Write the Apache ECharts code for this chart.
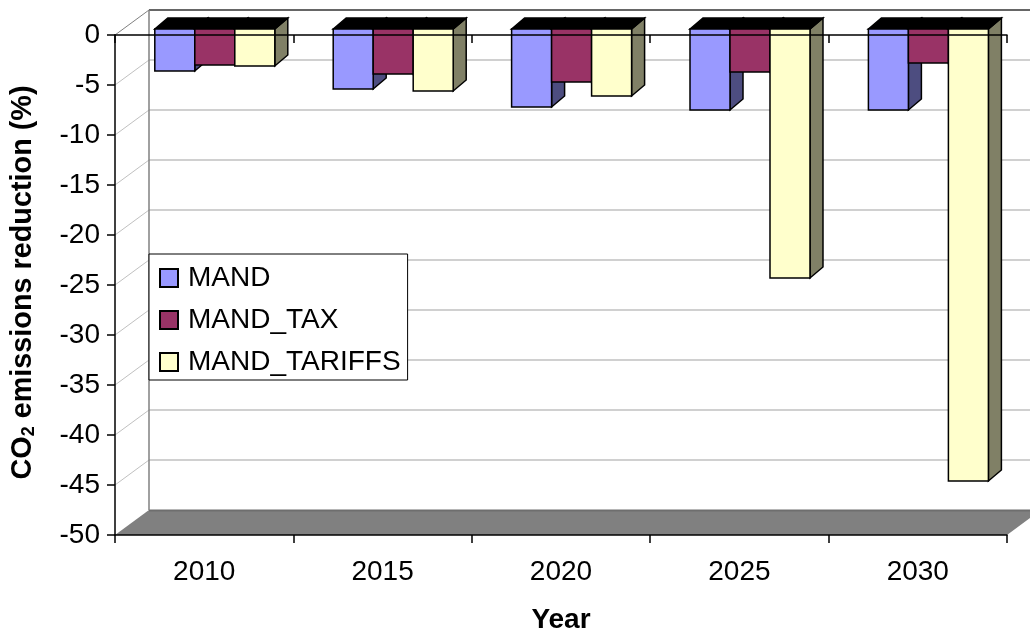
<!DOCTYPE html>
<html>
<head>
<meta charset="utf-8">
<style>html,body{margin:0;padding:0;background:#fff}#c{width:1030px;height:630px}</style>
<script src="https://cdn.jsdelivr.net/npm/echarts@6/dist/echarts.min.js"></script>
</head>
<body>
<div id="c"></div>
<script>
var years = ['2010','2015','2020','2025','2030'];
var seriesNames = ['MAND','MAND_TAX','MAND_TARIFFS'];
var mand = [-4.2,-6.0,-7.8,-8.1,-8.1];
var mandTax = [-3.6,-4.5,-5.3,-4.3,-3.4];
var mandTariffs = [-3.7,-6.2,-6.7,-24.9,-45.2];
var yTicks = [0,-5,-10,-15,-20,-25,-30,-35,-40,-45,-50];
var frontColors = ['#9999FF','#993366','#FFFFCC'];
var sideColors = ['#4D4D80','#4D1A33','#808066'];

var FONT = '"Liberation Sans", Arial, sans-serif';
var FS = 28;
var WALL_DX = 34, WALL_DY = -25;
var BAR_SHIFT_X = 10.6, BAR_SHIFT_Y = -6, BAR_DX = 13, BAR_DY = -11;
var BAR_FRACTION = 0.2242;

function barRenderer(seriesIdx) {
  return function (params, api) {
    var base = api.coord([api.value(0), 0]);
    var end = api.coord([api.value(0), api.value(1)]);
    var w = api.size([1, 0])[0] * BAR_FRACTION;
    var x0 = base[0] + BAR_SHIFT_X + (seriesIdx - 1.5) * w;
    var x1 = x0 + w;
    var yt = base[1] + BAR_SHIFT_Y;
    var yb = end[1] + BAR_SHIFT_Y;
    var line = { stroke: '#000', lineWidth: 1.5, lineJoin: 'miter' };
    function poly(pts, fill) {
      return { type: 'polygon', shape: { points: pts }, style: Object.assign({ fill: fill }, line) };
    }
    return {
      type: 'group',
      children: [
        poly([[x1, yt], [x1 + BAR_DX, yt + BAR_DY], [x1 + BAR_DX, yb + BAR_DY], [x1, yb]], sideColors[seriesIdx]),
        poly([[x0, yt], [x0 + BAR_DX, yt + BAR_DY], [x1 + BAR_DX, yt + BAR_DY], [x1, yt]], '#000'),
        poly([[x0, yt], [x1, yt], [x1, yb], [x0, yb]], frontColors[seriesIdx])
      ]
    };
  };
}

function frameRenderer(params, api) {
  var cs = params.coordSys;
  var x = cs.x, r = cs.x + cs.width;
  var children = [];
  var y50 = api.coord([0, -50])[1];
  children.push({ type: 'polygon', shape: { points: [[x, y50], [x + WALL_DX, y50 + WALL_DY], [r + WALL_DX, y50 + WALL_DY], [r, y50]] },
    style: { fill: '#808080', stroke: null } });
  children.push({ type: 'line', shape: { x1: x + WALL_DX, y1: y50 + WALL_DY + 0.5, x2: r + WALL_DX, y2: y50 + WALL_DY + 0.5 }, style: { stroke: '#6E6E6E', lineWidth: 2 } });
  yTicks.forEach(function (v) {
    if (v === -50) return;
    var y = api.coord([0, v])[1];
    var col = v === 0 ? '#808080' : '#C0C0C0';
    children.push({ type: 'line', shape: { x1: x, y1: y, x2: x + WALL_DX, y2: y + WALL_DY }, style: { stroke: col, lineWidth: 1 } });
    children.push({ type: 'line', shape: { x1: x + WALL_DX, y1: y + WALL_DY, x2: r + WALL_DX, y2: y + WALL_DY },
      style: { stroke: v === 0 ? '#333333' : '#C0C0C0', lineWidth: 1.5 } });
  });
  var y0 = api.coord([0, 0])[1];
  children.push({ type: 'line', shape: { x1: x + WALL_DX, y1: y0 + WALL_DY, x2: x + WALL_DX, y2: y50 + WALL_DY }, style: { stroke: '#808080', lineWidth: 1.5 } });
  return { type: 'group', children: children };
}

var allValues = [mand, mandTax, mandTariffs];
var barSeries = seriesNames.map(function (name, i) {
  return {
    name: name,
    type: 'custom',
    coordinateSystem: 'cartesian2d',
    xAxisIndex: 0,
    yAxisIndex: 0,
    z: 2 + i * 0.01,
    silent: true,
    itemStyle: { color: frontColors[i], borderColor: '#000', borderWidth: 1 },
    renderItem: barRenderer(i),
    encode: { x: 0, y: 1 },
    data: allValues[i].map(function (v, k) { return [k, v]; })
  };
});

var frameSeries = {
  name: 'frame',
  type: 'custom',
  coordinateSystem: 'cartesian2d',
  xAxisIndex: 0,
  yAxisIndex: 0,
  z: 1,
  silent: true,
  renderItem: frameRenderer,
  encode: { x: 0, y: 1 },
  data: [[0, 0]]
};

var chart = echarts.init(document.getElementById('c'), null, { renderer: 'canvas' });
chart.setOption({
  animation: false,
  backgroundColor: '#fff',
  textStyle: { fontFamily: FONT },
  grid: { left: 115, right: 23, top: 35, height: 500, containLabel: false, outerBoundsMode: 'none' },
  legend: {
    data: seriesNames,
    orient: 'vertical',
    left: 149,
    top: 254,
    z: 10,
    itemWidth: 18,
    itemHeight: 18,
    itemGap: 14,
    padding: [10, 7, 4, 10],
    backgroundColor: '#fff',
    borderColor: '#000',
    borderWidth: 1,
    borderRadius: 0,
    icon: 'rect',
    selectedMode: false,
    textStyle: { fontFamily: FONT, fontSize: FS, color: '#000', padding: [0, 0, 0, 5] }
  },
  xAxis: [
    {
      type: 'category', data: years, position: 'bottom', z: 5,
      name: 'Year', nameLocation: 'middle', nameGap: 71,
      nameTextStyle: { fontFamily: FONT, fontSize: 28, fontWeight: 'bold', color: '#000' },
      axisLine: { onZero: false, lineStyle: { color: '#000', width: 1.5 } },
      axisTick: { show: true, length: 8, lineStyle: { color: '#000', width: 1.5 } },
      axisLabel: { fontFamily: FONT, fontSize: FS, color: '#000', margin: 23 },
      splitLine: { show: false }
    },
    {
      type: 'category', data: years, position: 'top', z: 5,
      axisLine: { show: true, onZero: false, lineStyle: { color: '#000', width: 1.5 } },
      axisTick: { show: true, inside: true, length: 8, lineStyle: { color: '#000', width: 1.5 } },
      axisLabel: { show: false },
      splitLine: { show: false }
    }
  ],
  yAxis: {
    type: 'value', min: -50, max: 0, interval: 5, z: 5,
    name: '{b|CO}{s|2}{b| emissions reduction (%)}',
    nameLocation: 'middle', nameGap: 77,
    nameTextStyle: {
      padding: [0, 0, 0, 5],
      rich: {
        b: { fontFamily: FONT, fontSize: 28.8, fontWeight: 'bold', color: '#000' },
        s: { fontFamily: FONT, fontSize: 18, fontWeight: 'bold', color: '#000', verticalAlign: 'bottom', padding: [9, 0, 0, 0] }
      }
    },
    axisLine: { show: true, lineStyle: { color: '#000', width: 1.5 } },
    axisTick: { show: true, length: 8, lineStyle: { color: '#000', width: 1.5 } },
    axisLabel: { fontFamily: FONT, fontSize: FS, color: '#000', margin: 15, padding: [2, 0, 0, 0], showMinLabel: true, showMaxLabel: true },
    splitLine: { show: false }
  },
  series: [frameSeries].concat(barSeries)
});
</script>
</body>
</html>
